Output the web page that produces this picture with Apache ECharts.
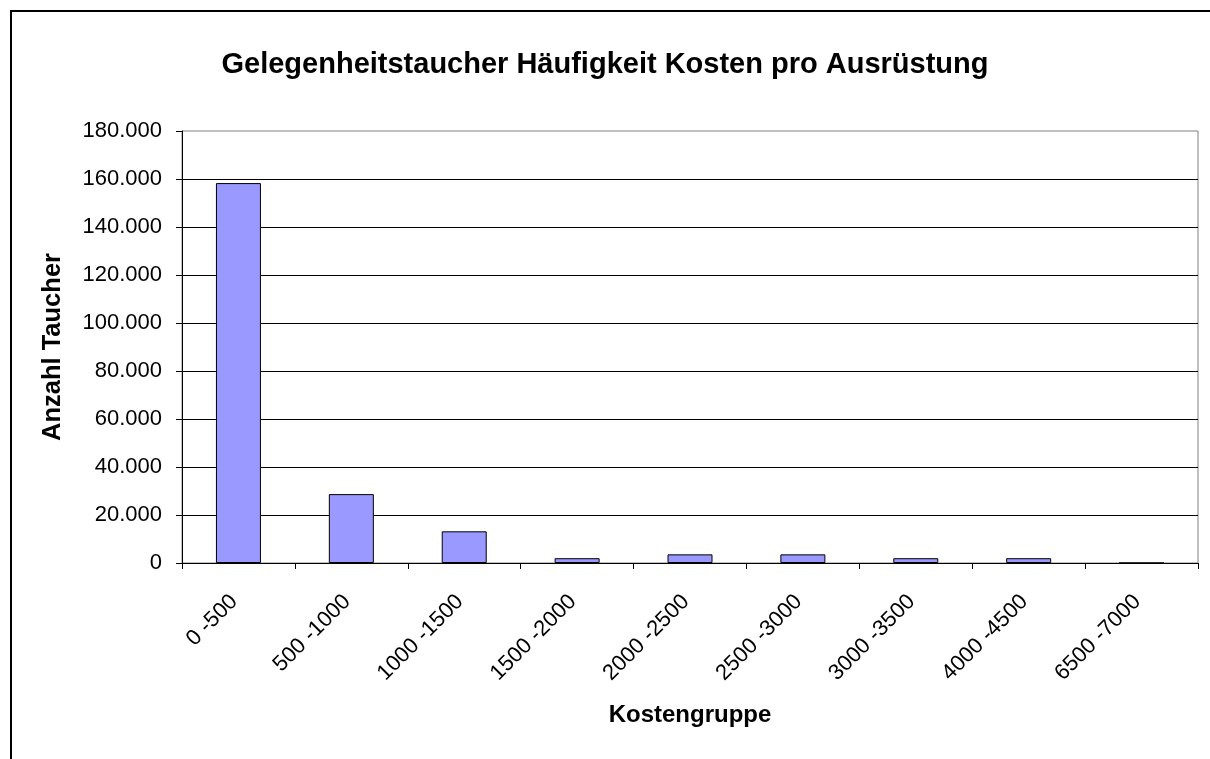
<!DOCTYPE html>
<html>
<head>
<meta charset="utf-8">
<script src="https://cdn.jsdelivr.net/npm/echarts@6/dist/echarts.min.js"></script>
<style>html,body{margin:0;padding:0;background:#fff;}#c{width:1210px;height:759px;}</style>
</head>
<body>
<div id="c"></div>
<script>
var titleText = 'Gelegenheitstaucher Häufigkeit Kosten pro Ausrüstung';
var categories = ['0 -500', '500 -1000', '1000 -1500', '1500 -2000', '2000 -2500', '2500 -3000', '3000 -3500', '4000 -4500', '6500 -7000'];
var values = [158300, 28700, 13200, 2000, 3600, 3600, 2000, 2000, 0];
var yTicks = { min: 0, max: 180000, interval: 20000 };
var xName = 'Kostengruppe';
var yName = 'Anzahl Taucher';

function fmt(v) {
  return String(v).replace(/\B(?=(\d{3})+(?!\d))/g, '.');
}

var chart = echarts.init(document.getElementById('c'), null, { renderer: 'canvas' });
var font = 'Liberation Sans, Arial, sans-serif';
chart.setOption({
  animation: false,
  backgroundColor: '#fff',
  textStyle: { fontFamily: font },
  title: {
    text: titleText,
    left: 'center',
    top: 45,
    textStyle: { fontSize: 29, fontWeight: 'bold', color: '#000', fontFamily: font }
  },
  graphic: [{
    type: 'rect',
    shape: { x: 11, y: 11, width: 1300, height: 900 },
    style: { fill: 'none', stroke: '#000', lineWidth: 2 },
    silent: true
  }],
  grid: {
    left: 182, right: 12, top: 131, bottom: 196,
    show: true, borderColor: '#808080', borderWidth: 1, backgroundColor: 'transparent'
  },
  xAxis: {
    type: 'category',
    data: categories,
    name: xName,
    nameLocation: 'middle',
    nameGap: 140,
    nameTextStyle: { fontSize: 24, fontWeight: 'bold', color: '#000', fontFamily: font },
    axisLine: { lineStyle: { color: '#000', width: 1 } },
    axisTick: { show: true, length: 6, lineStyle: { color: '#000' } },
    axisLabel: { rotate: 45, fontSize: 22, color: '#000', margin: 31, fontFamily: font, interval: 0, padding: [0, 6, 0, 0] },
    splitLine: { show: false }
  },
  yAxis: {
    type: 'value',
    min: yTicks.min, max: yTicks.max, interval: yTicks.interval,
    name: yName,
    nameLocation: 'middle',
    nameGap: 116,
    nameRotate: 90,
    nameTextStyle: { fontSize: 25.5, fontWeight: 'bold', color: '#000', fontFamily: font },
    axisLine: { show: true, lineStyle: { color: '#000', width: 1 } },
    axisTick: { show: true, length: 6, lineStyle: { color: '#000' } },
    axisLabel: { fontSize: 22, color: '#000', margin: 20, fontFamily: font, formatter: fmt },
    splitLine: { show: true, showMaxLine: false, lineStyle: { color: '#000', width: 1 } }
  },
  series: [{
    type: 'bar',
    data: values,
    barWidth: 45,
    itemStyle: { color: '#9999FF', borderColor: '#000', borderWidth: 1 }
  }]
});
</script>
</body>
</html>
